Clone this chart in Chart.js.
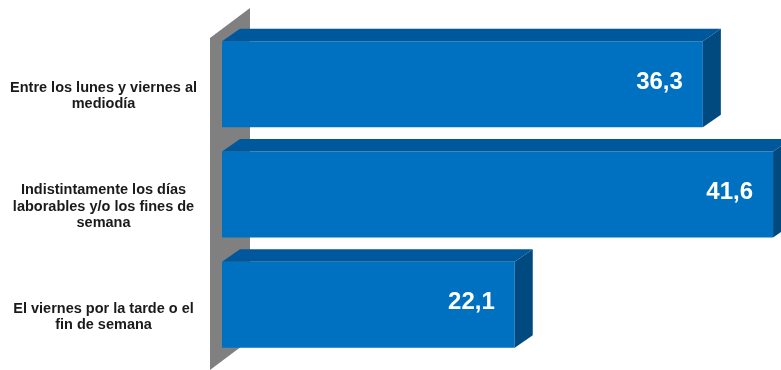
<!DOCTYPE html>
<html>
<head>
<meta charset="utf-8">
<script src="https://cdn.jsdelivr.net/npm/chart.js@4/dist/chart.umd.min.js"></script>
<style>
  body { margin: 0; background: #fff; }
  #wrap { width: 781px; height: 370px; }
</style>
</head>
<body>
<div id="wrap"><canvas id="chart" width="781" height="370"></canvas></div>
<script>
// categories and values (percent)
const categories = [
  ['Entre los lunes y viernes al', 'mediodía'],
  ['Indistintamente los días', 'laborables y/o los fines de', 'semana'],
  ['El viernes por la tarde o el', 'fin de semana']
];
const values = [36.3, 41.6, 22.1];
const valueLabels = ['36,3', '41,6', '22,1'];

const FRONT = '#0070C0', TOP = '#00589C', SIDE = '#004A80', WALL = '#808080';
const DX = 18, DY = -12.5;   // bar depth

// gray side wall behind the bars
const wallPlugin = {
  id: 'wall',
  beforeDatasetsDraw(chart){
    const {ctx, chartArea, scales:{x}} = chart;
    const x0 = x.getPixelForValue(0);
    const fx = x0 - 12, bx = x0 + 28;
    const ft = chartArea.top + 9, fb = chartArea.bottom + 10;
    ctx.save();
    ctx.fillStyle = WALL;
    ctx.beginPath();
    ctx.moveTo(fx, ft);
    ctx.lineTo(bx, ft - 30);
    ctx.lineTo(bx, fb - 30);
    ctx.lineTo(fx, fb);
    ctx.closePath();
    ctx.fill();
    ctx.restore();
  }
};

// top/side faces of each bar plus the value inside it
const boxPlugin = {
  id: 'box',
  afterDatasetsDraw(chart){
    const ctx = chart.ctx;
    const meta = chart.getDatasetMeta(0);
    ctx.save();
    meta.data.forEach((bar, i)=>{
      const t = bar.y - bar.height/2, b = bar.y + bar.height/2;
      const l = bar.base, r = bar.x;
      ctx.fillStyle = TOP;
      ctx.beginPath();
      ctx.moveTo(l, t); ctx.lineTo(l+DX, t+DY); ctx.lineTo(r+DX, t+DY); ctx.lineTo(r, t);
      ctx.closePath(); ctx.fill();
      ctx.fillStyle = SIDE;
      ctx.beginPath();
      ctx.moveTo(r, t); ctx.lineTo(r+DX, t+DY); ctx.lineTo(r+DX, b+DY); ctx.lineTo(r, b);
      ctx.closePath(); ctx.fill();

      ctx.fillStyle = '#fff';
      ctx.font = "bold 24px 'Liberation Sans', Arial, sans-serif";
      ctx.textAlign = 'right';
      ctx.textBaseline = 'middle';
      ctx.fillText(valueLabels[i], r - 20, bar.y - 2);
    });
    ctx.restore();
  }
};

new Chart(document.getElementById('chart'), {
  type: 'bar',
  data: {
    labels: categories,
    datasets: [{ data: values, backgroundColor: FRONT, borderWidth: 0,
      barPercentage: 0.78, categoryPercentage: 1 }]
  },
  options: {
    responsive: false,
    animation: false,
    indexAxis: 'y',
    layout: { padding: { top: 29, bottom: 10, left: 0, right: 0 } },
    plugins: { legend: { display: false }, tooltip: { enabled: false } },
    scales: {
      x: { display: false, min: 0, max: 42.2 },
      y: {
        afterFit(scale){
          scale.width = 222;
          scale.paddingTop = 0;
          scale.paddingBottom = 0;
        },
        grid: { display: false, drawTicks: false },
        border: { display: false },
        ticks: {
          crossAlign: 'center',
          padding: 25,
          labelOffset: 12,
          color: '#1a1a1a',
          font: { family: "'Liberation Sans', Arial, sans-serif", size: 14.5, weight: 'bold', lineHeight: 1.12 }
        }
      }
    }
  },
  plugins: [wallPlugin, boxPlugin]
});
</script>
</body>
</html>
